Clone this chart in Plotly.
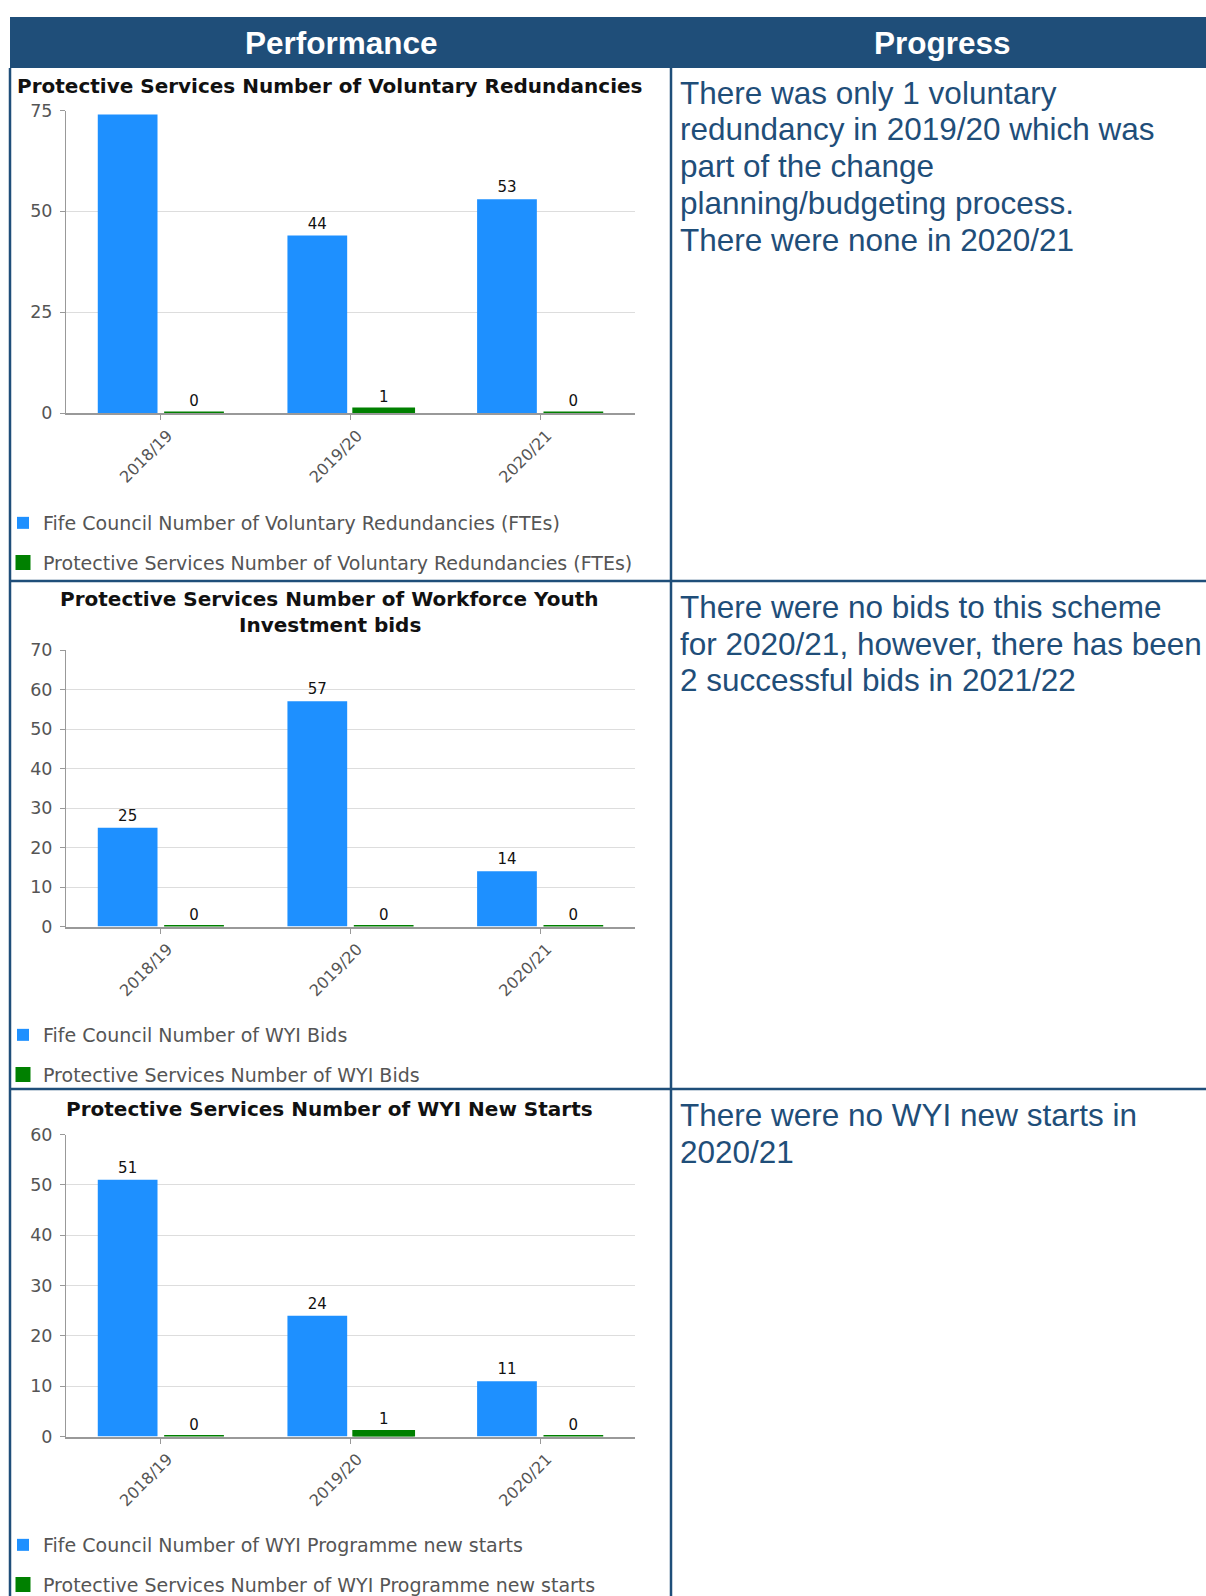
import plotly.graph_objects as go

W, H = 1206, 1596

# ---------------- data ----------------
categories = ["2018/19", "2019/20", "2020/21"]

vr_fife = [74, 44, 53]
vr_prot = [0, 1, 0]
bids_fife = [25, 57, 14]
bids_prot = [0, 0, 0]
starts_fife = [51, 24, 11]
starts_prot = [0, 1, 0]

chart_titles = [
    ["Protective Services Number of Voluntary Redundancies"],
    ["Protective Services Number of Workforce Youth", "Investment bids"],
    ["Protective Services Number of WYI New Starts"],
]
series_names = [
    ["Fife Council Number of Voluntary Redundancies (FTEs)",
     "Protective Services Number of Voluntary Redundancies (FTEs)"],
    ["Fife Council Number of WYI Bids",
     "Protective Services Number of WYI Bids"],
    ["Fife Council Number of WYI Programme new starts",
     "Protective Services Number of WYI Programme new starts"],
]
series_values = [
    [vr_fife, vr_prot],
    [bids_fife, bids_prot],
    [starts_fife, starts_prot],
]
y_max = [75, 70, 60]
y_step = [25, 10, 10]

header_labels = ["Performance", "Progress"]
progress_texts = [
    ["There was only 1 voluntary",
     "redundancy in 2019/20 which was",
     "part of the change",
     "planning/budgeting process.",
     "There were none in 2020/21"],
    ["There were no bids to this scheme",
     "for 2020/21, however, there has been",
     "2 successful bids in 2021/22"],
    ["There were no WYI new starts in",
     "2020/21"],
]

# ---------------- layout geometry (pixels) ----------------
NAVY = "#1F4E79"
BLUE = "#1E90FF"
GREEN = "#008000"
TABLE_LEFT = 10
DIVIDER = 671
HEADER_TOP, HEADER_BOTTOM = 17, 68
ROW_BOUNDS = [68, 581, 1089, 1596]
PLOT_LEFT, PLOT_RIGHT = 66, 635
PLOT_Y = [(413, 110.5), (926.5, 650), (1436.5, 1134.5)]  # (zero px, top px)
TITLE_Y = [[85.5], [598.5, 625], [1108.5]]
TITLE_X = 330
LEGEND_TOP = [504, 1016, 1526]
TEXT_X = 678
TEXT_Y0 = [92.6, 606.6, 1115.4]
TEXT_STEP = 36.9


def px(x):
    return x / W


def py(y):
    return 1 - y / H


fig = go.Figure()

FONT = "DejaVu Sans"

for i in range(3):
    ax = "" if i == 0 else str(i + 1)
    for j, (name, vals, col) in enumerate(zip(series_names[i], series_values[i], [BLUE, GREEN])):
        labels = ["" if v > y_max[i] * 0.9 else str(v) for v in vals]
        fig.add_trace(go.Bar(
            x=categories, y=vals, name=name,
            marker=dict(color=col, line=dict(color=col, width=0 if j == 0 else 3)),
            text=labels, textposition="outside", cliponaxis=False,
            textfont=dict(family=FONT, size=15, color="#111"),
            xaxis="x" + ax, yaxis="y" + ax,
            legend="legend" + ax, legendgroup=f"g{i}{j}",
            hoverinfo="x+y",
        ))
    y0, y1 = PLOT_Y[i]
    fig.layout["xaxis" + ax] = dict(
        domain=[px(PLOT_LEFT), px(PLOT_RIGHT)], anchor="y" + ax,
        showline=True, linecolor="#999", linewidth=2,
        ticks="outside", ticklen=5, tickcolor="#999",
        showgrid=False, tickangle=-45, ticklabelshift=7,
        tickfont=dict(family=FONT, size=16, color="#555"),
        automargin=False, fixedrange=True,
    )
    fig.layout["yaxis" + ax] = dict(
        domain=[py(y0), py(y1)], anchor="x" + ax,
        range=[0, y_max[i]], dtick=y_step[i],
        showline=True, linecolor="#999", linewidth=1,
        ticks="outside", ticklen=5, tickcolor="#999",
        ticklabelstandoff=4,
        showgrid=True, gridcolor="#dddddd", gridwidth=1, zeroline=False,
        tickfont=dict(family=FONT, size=17.5, color="#555"),
        automargin=False, fixedrange=True,
    )
    fig.layout["legend" + ax] = dict(
        x=px(3), y=py(LEGEND_TOP[i]), xanchor="left", yanchor="top",
        orientation="v", traceorder="grouped", tracegroupgap=12,
        bgcolor="rgba(0,0,0,0)",
        font=dict(family=FONT, size=19, color="#555"),
    )

shapes = []
# header band
shapes.append(dict(type="rect", xref="paper", yref="paper",
                   x0=px(TABLE_LEFT), x1=1.0, y0=py(HEADER_BOTTOM), y1=py(HEADER_TOP),
                   fillcolor=NAVY, line=dict(width=0), layer="below"))
# vertical borders
for xv in [TABLE_LEFT, DIVIDER]:
    shapes.append(dict(type="line", xref="paper", yref="paper",
                       x0=px(xv), x1=px(xv), y0=0, y1=py(HEADER_BOTTOM),
                       line=dict(color=NAVY, width=2.5)))
# horizontal row borders
for yv in ROW_BOUNDS[1:3]:
    shapes.append(dict(type="line", xref="paper", yref="paper",
                       x0=px(TABLE_LEFT), x1=1.0, y0=py(yv), y1=py(yv),
                       line=dict(color=NAVY, width=2.5)))

annotations = []
for label, xc in zip(header_labels, [341, 942]):
    annotations.append(dict(text=f"<b>{label}</b>", x=px(xc), y=py(43), xref="paper", yref="paper",
                            xanchor="center", yanchor="middle", showarrow=False,
                            font=dict(family="Liberation Sans, Arial", size=31.5, color="white")))
for i in range(3):
    for line, yy in zip(chart_titles[i], TITLE_Y[i]):
        annotations.append(dict(text=f"<b>{line}</b>", x=px(TITLE_X), y=py(yy), xref="paper", yref="paper",
                                xanchor="center", yanchor="middle", showarrow=False,
                                font=dict(family=FONT, size=20, color="#111")))
    for k, line in enumerate(progress_texts[i]):
        annotations.append(dict(text=line, x=px(TEXT_X), y=py(TEXT_Y0[i] + k * TEXT_STEP),
                                xref="paper", yref="paper", xanchor="left", yanchor="middle",
                                showarrow=False,
                                font=dict(family="Liberation Sans, Arial", size=31.5, color=NAVY)))

fig.update_layout(
    width=W, height=H, margin=dict(l=0, r=0, t=0, b=0, pad=0, autoexpand=False),
    paper_bgcolor="white", plot_bgcolor="white",
    barmode="group", bargap=0.30, bargroupgap=0.1,
    showlegend=True, shapes=shapes, annotations=annotations,
)

page_fix = ("document.documentElement.style.margin='0';"
            "document.body.style.margin='0';document.body.style.padding='0';"
            "document.body.style.overflow='hidden';")

fig.write_html("out.html", config={"displayModeBar": False}, post_script=page_fix)
